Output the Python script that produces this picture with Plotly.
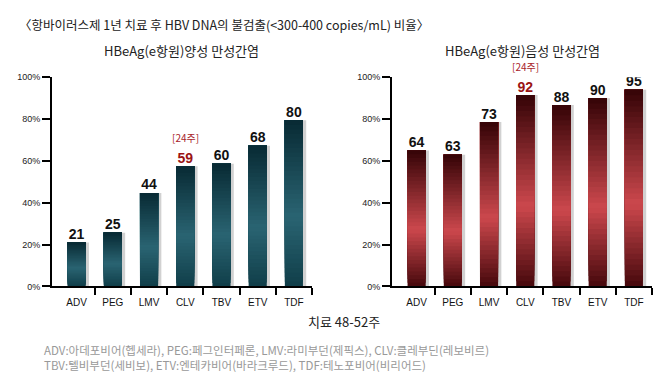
import plotly.graph_objects as go

# ---------------- data ----------------
categories = ["ADV", "PEG", "LMV", "CLV", "TBV", "ETV", "TDF"]
pos_labels = [21, 25, 44, 59, 60, 68, 80]              # HBeAg positive (labelled values)
pos_heights = [21, 25.7, 44.7, 57.5, 58.6, 67.3, 79.5]  # bar heights as drawn
neg_labels = [64, 63, 73, 92, 88, 90, 95]              # HBeAg negative (labelled values)
neg_heights = [65, 63, 78.6, 91.5, 86.7, 90, 94]       # bar heights as drawn
notes = ["", "", "", "[24주]", "", "", ""]
y_tick_vals = [0, 20, 40, 60, 80, 100]
y_tick_text = ["0%", "20%", "40%", "60%", "80%", "100%"]
boundaries = [0.5, 1.5, 2.5, 3.5, 4.5, 5.5, 6.5]

title_text = "〈항바이러스제 1년 치료 후 HBV DNA의 불검출(<300-400 copies/mL) 비율〉"
pos_title = "HBeAg(e항원)양성 만성간염"
neg_title = "HBeAg(e항원)음성 만성간염"
x_title = "치료 48-52주"
footnote = ["ADV:아데포비어(헵세라), PEG:페그인터페론, LMV:라미부던(제픽스), CLV:클레부딘(레보비르)",
            "TBV:텔비부던(세비보), ETV:엔테카비어(바라크루드), TDF:테노포비어(비리어드)"]

FONT = "Liberation Sans, Arial, Noto Sans CJK KR"
KFONT = "Noto Sans CJK KR, Liberation Sans"

teal = {"bottom": (16, 62, 73), "mid": (42, 100, 114), "top": (8, 42, 51)}
red = {"bottom": (70, 8, 12), "mid": (204, 72, 77), "top": (52, 3, 6)}


def grad(c, t, tm=0.42):
    if t < tm:
        a, b, f = c["bottom"], c["mid"], t / tm
    else:
        a, b, f = c["mid"], c["top"], (t - tm) / (1 - tm)
    r = [round(a[i] + (b[i] - a[i]) * f) for i in range(3)]
    return "rgb(%d,%d,%d)" % tuple(r)


fig = go.Figure()
N = 36
BW = 0.5


def add_panel(heights, labels, cols, xa, ya, label_colors):
    xs = list(range(len(categories)))
    # soft shadow on the right of each bar
    fig.add_trace(go.Bar(x=xs, y=heights, base=0, width=BW, offset=-BW / 2 + 0.09,
                         marker=dict(color="rgba(90,90,90,0.28)", line=dict(width=0)),
                         xaxis=xa, yaxis=ya, hoverinfo="skip", showlegend=False))
    for k in range(N):
        t = (k + 0.5) / N
        bases = [h * k / N for h in heights]
        ys = [h - b for h, b in zip(heights, bases)]
        fig.add_trace(go.Bar(x=xs, y=ys, base=bases, width=BW, offset=-BW / 2,
                             marker=dict(color=grad(cols, t), line=dict(width=0)),
                             xaxis=xa, yaxis=ya, hoverinfo="skip", showlegend=False))
    fig.add_trace(go.Scatter(x=xs, y=heights, mode="text",
                             text=["<b>%d</b>" % v for v in labels],
                             textposition="top center",
                             textfont=dict(family=FONT, size=14, color=label_colors),
                             xaxis=xa, yaxis=ya, hoverinfo="skip", showlegend=False))
    for i, n in enumerate(notes):
        if n:
            fig.add_annotation(x=i, y=heights[i], xref=xa, yref=ya, text=n,
                               showarrow=False, yanchor="bottom", yshift=19,
                               font=dict(family=KFONT, size=10, color="#a8252a"))


lab_cols = ["#111" if n == "" else "#9b1414" for n in notes]
add_panel(pos_heights, pos_labels, teal, "x", "y", lab_cols)
add_panel(neg_heights, neg_labels, red, "x2", "y2", lab_cols)

# page body has an 8px default margin: the figure is drawn 8px right/down
OFF = 8
W, H = 661 - OFF, 382 - OFF
def px(x): return (x - OFF) / W
def py(y): return 1 - (y - OFF) / H

xcommon = dict(range=[-0.68, 6.5], tickmode="array", tickvals=list(range(len(categories))),
               ticktext=categories, ticks="", showline=True, linecolor="#000", linewidth=2,
               showgrid=False, zeroline=False, fixedrange=True, ticklabelstandoff=6,
               tickfont=dict(family=FONT, size=10, color="#111"),
               minor=dict(tickmode="array", tickvals=boundaries, ticks="outside",
                          ticklen=7, tickwidth=2, tickcolor="#000", showgrid=False))
ycommon = dict(range=[0, 100], tickmode="array", tickvals=y_tick_vals, ticktext=y_tick_text,
               ticks="outside", ticklen=8, tickwidth=2, tickcolor="#000",
               showline=True, linecolor="#000", linewidth=2, showgrid=False, zeroline=False,
               tickfont=dict(family=FONT, size=9, color="#222"), fixedrange=True)

fig.update_layout(
    width=W, height=H, margin=dict(l=0, r=0, t=0, b=0),
    paper_bgcolor="white", plot_bgcolor="white", barmode="overlay", showlegend=False,
    xaxis=dict(domain=[px(52), px(312)], anchor="y", **xcommon),
    yaxis=dict(domain=[py(289), py(74)], anchor="x", **ycommon),
    xaxis2=dict(domain=[px(392), px(652)], anchor="y2", **xcommon),
    yaxis2=dict(domain=[py(289), py(74)], anchor="x2", **ycommon),
)

fig.add_annotation(x=px(17), y=py(8), xref="paper", yref="paper", text=title_text,
                   showarrow=False, xanchor="left", yanchor="top",
                   font=dict(family=KFONT, size=12.5, color="#222"))
fig.add_annotation(x=px(181), y=py(47), xref="paper", yref="paper", text=pos_title,
                   showarrow=False, xanchor="center", yanchor="middle",
                   font=dict(family=KFONT, size=13, color="#222"))
fig.add_annotation(x=px(522), y=py(47), xref="paper", yref="paper", text=neg_title,
                   showarrow=False, xanchor="center", yanchor="middle",
                   font=dict(family=KFONT, size=13, color="#222"))
fig.add_annotation(x=px(344), y=py(325), xref="paper", yref="paper", text=x_title,
                   showarrow=False, xanchor="center", yanchor="middle",
                   font=dict(family=KFONT, size=13, color="#222"))
fig.add_annotation(x=px(42), y=py(362), xref="paper", yref="paper", text="<br>".join(footnote),
                   showarrow=False, xanchor="left", yanchor="middle", align="left",
                   font=dict(family=KFONT, size=11.5, color="#999"))

fig.write_html("out.html")
